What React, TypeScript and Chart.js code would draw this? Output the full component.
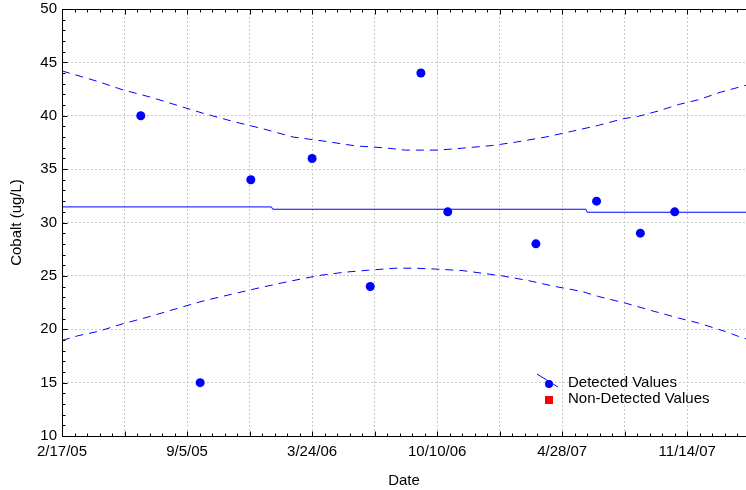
import React, { useEffect, useRef } from 'react';
import { Chart, registerables } from 'chart.js';

Chart.register(...registerables);

// ---------- data ----------
const START_DATE = '2005-02-17';
const X_MAX_DAYS = 1094;
const X_GRID_STEP_DAYS = 100;

const xTickLabels = ['2/17/05', '9/5/05', '3/24/06', '10/10/06', '4/28/07', '11/14/07'];

const detectedDates = [
  '2005-06-23', '2005-09-26', '2005-12-16', '2006-03-24', '2006-06-25', '2006-09-14',
  '2006-10-27', '2007-03-17', '2007-06-22', '2007-08-31', '2007-10-25',
];
const detectedValues = [40, 15, 34, 36, 24, 44, 31, 28, 32, 29, 31];

const nonDetectedDates: string[] = [];
const nonDetectedValues: number[] = [];

// center (mean) line, days since start
const centerDays = [0, 335, 337, 838, 840, 1094];
const centerValues = [31.46, 31.46, 31.24, 31.24, 30.96, 30.96];

// upper prediction limit curve
const upperDays = [0, 29, 58, 96, 141, 184, 224, 272, 320, 370, 416, 469, 517, 549, 602, 640, 688, 725, 773, 816, 858, 896, 922, 954, 986, 1018, 1053, 1088, 1094];
const upperValues = [44.2, 43.7, 43.2, 42.45, 41.75, 40.98, 40.26, 39.49, 38.8, 38.0, 37.65, 37.18, 36.99, 36.78, 36.78, 36.96, 37.21, 37.52, 38.0, 38.55, 39.1, 39.7, 39.95, 40.45, 41.05, 41.5, 42.2, 42.76, 42.85];

// lower prediction limit curve
const lowerDays = [0, 26, 58, 96, 141, 186, 229, 272, 317, 362, 410, 453, 490, 533, 565, 600, 640, 672, 704, 746, 784, 832, 858, 901, 944, 986, 1018, 1061, 1082, 1094];
const lowerValues = [18.95, 19.4, 19.8, 20.49, 21.2, 21.98, 22.7, 23.29, 23.9, 24.47, 25.03, 25.35, 25.53, 25.72, 25.72, 25.63, 25.5, 25.25, 25.0, 24.56, 24.06, 23.53, 23.07, 22.45, 21.73, 21.05, 20.58, 19.79, 19.33, 19.1];

// ---------- helpers ----------
const DAY_MS = 86400000;
const utc = (s: string) => {
  const [y, m, d] = s.split('-').map(Number);
  return Date.UTC(y, m - 1, d);
};
const toDay = (s: string) => Math.round((utc(s) - utc(START_DATE)) / DAY_MS);
const pts = (xs: number[], ys: number[]) => xs.map((x, i) => ({ x, y: ys[i] }));

const BLUE = '#0000ff';
const RED = '#ff0000';
const FONT_FAMILY = "'Liberation Sans', Arial, Helvetica, sans-serif";

const frameTicksPlugin = {
  id: 'frameTicks',
  afterDraw(chart: any) {
    const { ctx, chartArea: a, scales } = chart;
    const x = scales.x;
    const y = scales.y;
    ctx.save();
    ctx.strokeStyle = '#000';
    ctx.lineWidth = 1;
    ctx.setLineDash([]);
    ctx.beginPath();
    const L = Math.round(a.left) + 0.5;
    const T = Math.round(a.top) + 0.5;
    const B = Math.round(a.bottom) + 0.5;
    ctx.moveTo(L, T);
    ctx.lineTo(L, B);
    ctx.moveTo(L, B);
    ctx.lineTo(a.right, B);
    ctx.moveTo(L, T);
    ctx.lineTo(a.right, T);
    for (let v = y.min; v <= y.max; v += 1) {
      const py = Math.round(y.getPixelForValue(v)) + 0.5;
      const len = v % 5 === 0 ? 5 : 3;
      ctx.moveTo(L, py);
      ctx.lineTo(L + len, py);
    }
    for (let d = 0; d <= x.max; d += 20) {
      const px = Math.round(x.getPixelForValue(d)) + 0.5;
      const len = d % 100 === 0 ? 5 : 3;
      ctx.moveTo(px, B);
      ctx.lineTo(px, B - len);
      ctx.moveTo(px, T);
      ctx.lineTo(px, T + len);
    }
    ctx.stroke();
    ctx.restore();
  },
};

const legendPlugin = {
  id: 'customLegend',
  afterDraw(chart: any) {
    const { ctx, chartArea: a } = chart;
    const ds = chart.data.datasets;
    const lx = a.left + 487;
    const ly = a.bottom - 53;
    ctx.save();
    ctx.strokeStyle = BLUE;
    ctx.lineWidth = 1;
    ctx.beginPath();
    ctx.moveTo(lx - 12, ly - 9);
    ctx.lineTo(lx + 9, ly + 4);
    ctx.stroke();
    ctx.fillStyle = BLUE;
    ctx.beginPath();
    ctx.arc(lx, ly + 1, 4, 0, Math.PI * 2);
    ctx.fill();
    ctx.fillStyle = RED;
    ctx.fillRect(lx - 4, ly + 13, 8, 8);
    ctx.fillStyle = '#000';
    ctx.font = `15px ${FONT_FAMILY}`;
    ctx.textAlign = 'left';
    ctx.textBaseline = 'middle';
    ctx.fillText(ds[0].label, lx + 19, ly);
    ctx.fillText(ds[4].label, lx + 19, ly + 16);
    ctx.restore();
  },
};

export default function App() {
  const canvasRef = useRef<HTMLCanvasElement | null>(null);

  useEffect(() => {
    if (!canvasRef.current) return;
    const tickFont = { family: FONT_FAMILY, size: 15, lineHeight: 1.1 };
    const chart = new Chart(canvasRef.current, {
      type: 'scatter',
      data: {
        datasets: [
          {
            label: 'Detected Values',
            data: pts(detectedDates.map(toDay), detectedValues),
            backgroundColor: BLUE,
            borderColor: BLUE,
            borderWidth: 0,
            pointRadius: 4.5,
            pointStyle: 'circle',
            showLine: false,
          },
          {
            label: 'Mean',
            data: pts(centerDays, centerValues),
            borderColor: BLUE,
            borderWidth: 1,
            pointRadius: 0,
            showLine: true,
            fill: false,
          },
          {
            label: 'Upper Limit',
            data: pts(upperDays, upperValues),
            borderColor: BLUE,
            borderWidth: 1,
            borderDash: [8, 6],
            pointRadius: 0,
            showLine: true,
            fill: false,
          },
          {
            label: 'Lower Limit',
            data: pts(lowerDays, lowerValues),
            borderColor: BLUE,
            borderWidth: 1,
            borderDash: [8, 6],
            pointRadius: 0,
            showLine: true,
            fill: false,
          },
          {
            label: 'Non-Detected Values',
            data: pts(nonDetectedDates.map(toDay), nonDetectedValues),
            backgroundColor: RED,
            borderColor: RED,
            pointStyle: 'rect',
            pointRadius: 4,
            showLine: false,
          },
        ],
      },
      options: {
        animation: false,
        responsive: true,
        maintainAspectRatio: false,
        layout: { autoPadding: false, padding: { top: 9, right: 0, bottom: 0, left: 0 } },
        plugins: {
          legend: { display: false },
          tooltip: { enabled: false },
        },
        scales: {
          x: {
            type: 'linear',
            min: 0,
            max: X_MAX_DAYS,
            afterBuildTicks: (s: any) => {
              const t: { value: number }[] = [];
              for (let v = 0; v <= X_MAX_DAYS; v += X_GRID_STEP_DAYS) t.push({ value: v });
              s.ticks = t;
            },
            afterFit: (s: any) => {
              s.height = 54;
              s.paddingLeft = 0;
              s.paddingRight = 0;
              s.paddingTop = 0;
              s.paddingBottom = 0;
            },
            grid: { color: '#c8c8c8', lineWidth: 1, drawTicks: false },
            border: { display: true, color: '#000', width: 1, dash: [2, 2] },
            ticks: {
              autoSkip: false,
              maxRotation: 0,
              minRotation: 0,
              padding: 8,
              color: '#000',
              font: tickFont,
              callback: (_v: any, index: number) =>
                index % 2 === 0 ? xTickLabels[index / 2] ?? '' : '',
            },
            title: {
              display: true,
              text: 'Date',
              color: '#000',
              font: { family: FONT_FAMILY, size: 15 },
              padding: { top: 3, bottom: 0 },
            },
          },
          y: {
            type: 'linear',
            min: 10,
            max: 50,
            afterFit: (s: any) => {
              s.width = 62;
              s.paddingTop = 0;
              s.paddingBottom = 0;
              s.paddingLeft = 0;
              s.paddingRight = 0;
            },
            grid: { color: '#c8c8c8', lineWidth: 1, drawTicks: false },
            border: { display: true, color: '#000', width: 1, dash: [2, 2] },
            ticks: {
              stepSize: 5,
              padding: 5,
              color: '#000',
              font: tickFont,
            },
            title: {
              display: true,
              text: 'Cobalt (ug/L)',
              color: '#000',
              font: { family: FONT_FAMILY, size: 15 },
              padding: { top: 8, bottom: 0 },
            },
          },
        },
      } as any,
      plugins: [frameTicksPlugin, legendPlugin],
    });
    return () => chart.destroy();
  }, []);

  return (
    <div style={{ position: 'absolute', left: 0, top: 0, width: 746, height: 490, background: '#fff' }}>
      <canvas ref={canvasRef} />
    </div>
  );
}
